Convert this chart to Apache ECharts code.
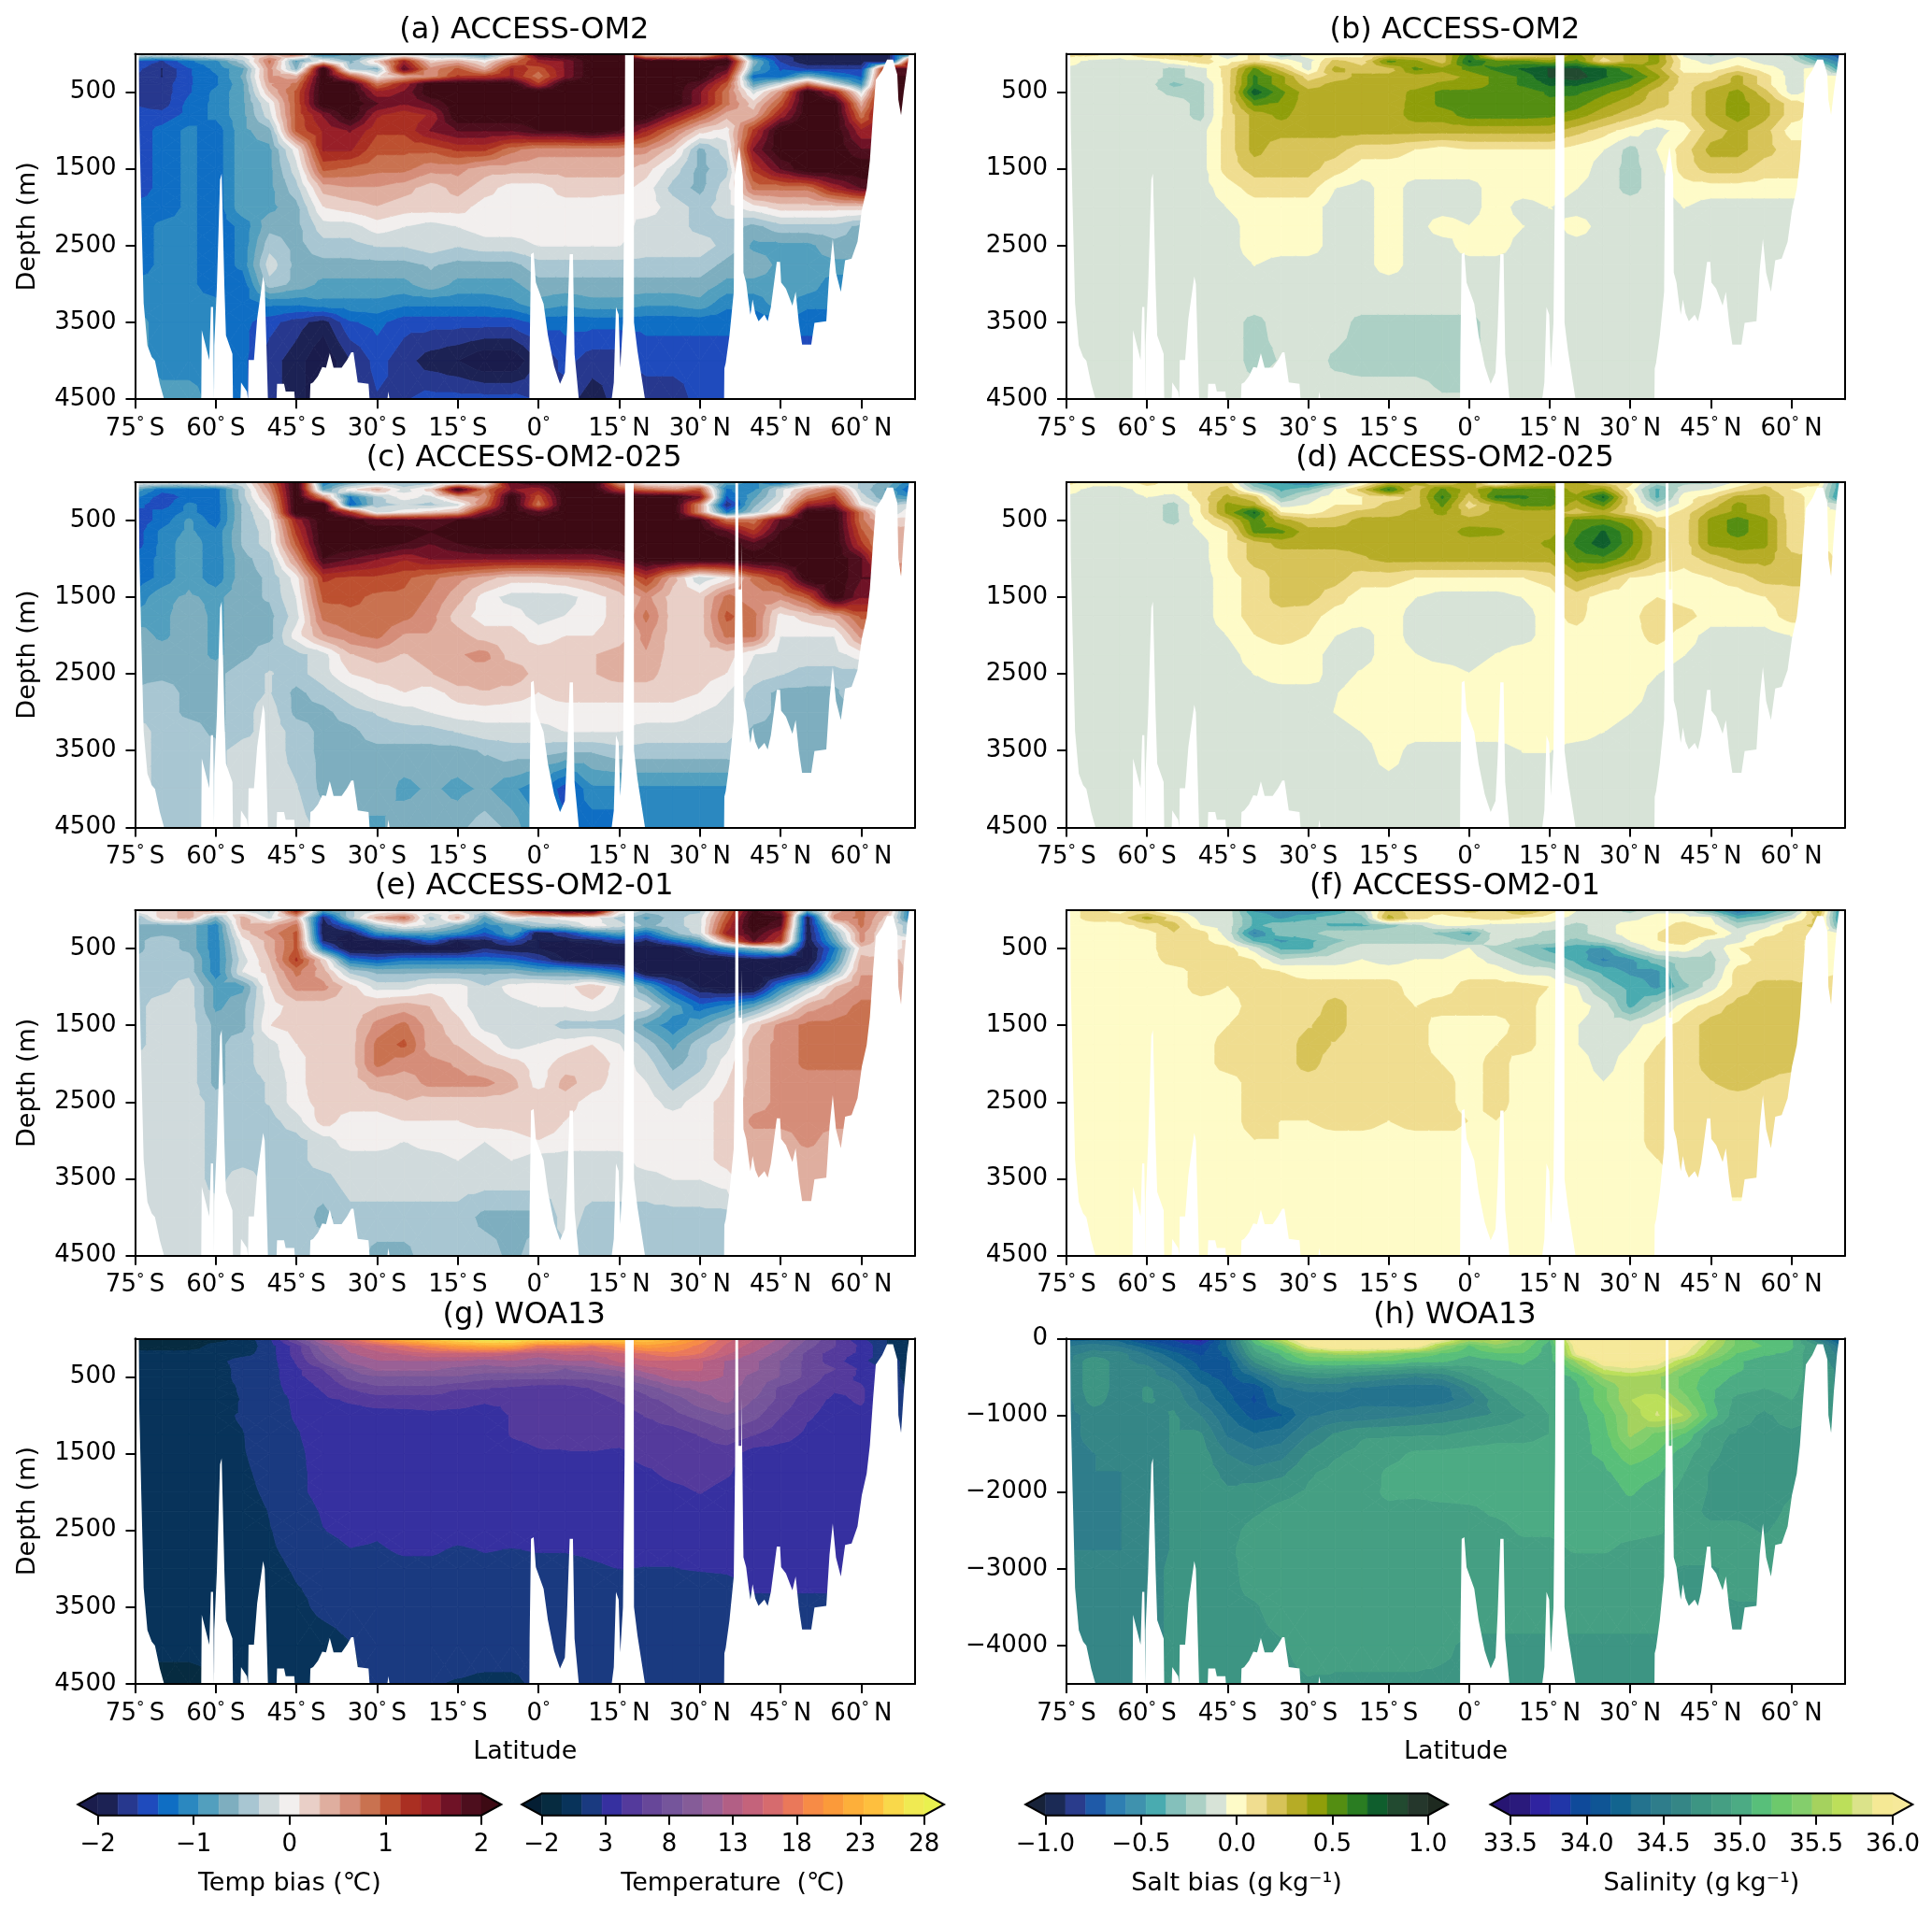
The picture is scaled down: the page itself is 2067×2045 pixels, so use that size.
<!DOCTYPE html>
<html><head><meta charset="utf-8"><style>html,body{margin:0;background:#fff}#c{width:2067px;height:2045px}</style>
<script src="https://cdn.jsdelivr.net/npm/echarts@6/dist/echarts.min.js"></script></head><body><div id="c"></div>
<script>
const latitudes=[-75,-70,-65,-60,-55,-50,-45,-40,-35,-30,-25,-20,-15,-10,-5,0,5,10,15,20,25,30,35,40,45,50,55,60,65,70];
const depths=[0,100,200,300,400,500,650,800,1000,1250,1500,1750,2000,2250,2500,2750,3000,3250,3500,4000,4500];
const latTicks=[-75,-60,-45,-30,-15,0,15,30,45,60];
const depthTicks=[500,1500,2500,3500,4500];
const depthTicksNeg=[0,1000,2000,3000,4000];
// temperature bias, 0.1 degC
const panelA=[
[0,0,0,2,0,2,8,-12,-8,-8,-6,-6,-8,-10,-4,20,22,22,22,-4,-6,-4,10,-16,-18,-18,-18,-18,-20,-10],
[-14,-16,-12,-10,-4,8,-8,0,-6,2,14,2,4,0,8,14,16,22,22,22,22,20,22,-6,-16,-20,-20,-20,-20,20],
[-15,-18,-14,-11,-8,6,-6,22,-4,-6,18,6,10,4,14,10,16,22,22,22,22,22,18,-8,-14,-16,-16,-16,18,18],
[-16,-18,-14,-12,-7,6,4,22,10,0,4,6,12,12,14,8,16,22,22,22,22,22,14,-13,-13,-6,-11,-14,20,20],
[-16,-17,-14,-12,-8,5,8,22,22,8,14,22,22,22,22,12,22,22,22,22,22,18,10,-8,-2,8,-2,-10,20,20],
[-16,-17,-14,-11,-8,3,10,22,22,14,16,22,22,22,22,22,22,22,22,22,22,16,8,-2,6,22,14,-2,20,20],
[-16,-17,-13,-11,-8,-1,10,22,22,18,16,18,22,22,22,22,22,22,22,22,22,16,8,2,10,22,22,4,20,20],
[-15,-15,-13,-11,-8,-2,10,16,22,14,12,14,22,22,22,22,22,22,22,22,16,10,4,4,14,22,22,8,20,20],
[-15,-13,-11,-13,-8,-6,10,14,16,12,12,16,18,18,18,20,20,22,20,14,8,2,0,12,22,22,22,14,14,14],
[-15,-13,-11,-13,-8,-8,0,14,14,10,10,10,12,12,8,6,6,6,6,6,2,-6,-2,16,22,22,22,18,18,18],
[-15,-13,-11,-13,-8,-8,-2,10,9,8,8,6,6,4,4,4,4,4,4,2,-2,-6,-4,12,18,22,22,22,22,22],
[-15,-13,-11,-13,-8,-8,-4,4,5,5,4,2,4,2,0,0,2,2,2,0,-4,-6,-2,8,8,8,14,18,18,18],
[-13,-13,-11,-13,-8,-8,-6,1,2,3,2,2,2,0,0,0,0,0,-1,0,-2,-4,-2,0,2,2,2,2,2,2],
[-13,-11,-11,-13,-11,-6,-6,-2,-2,0,-1,-2,-1,0,0,0,0,0,0,-2,-2,-4,-4,-6,-4,-4,-4,-6,-6,-6],
[-13,-11,-11,-13,-11,-4,-6,-4,-4,-3,-3,-2,-3,-2,-2,-1,-1,-1,-1,-2,-2,-2,-4,-8,-8,-8,-6,-6,-6,-6],
[-13,-11,-11,-13,-11,-2,-6,-6,-6,-6,-6,-5,-6,-6,-6,-4,-4,-4,-4,-4,-4,-4,-6,-6,-8,-8,-8,-8,-8,-8],
[-11,-11,-11,-13,-13,-4,-6,-8,-8,-8,-8,-6,-8,-8,-8,-6,-6,-6,-6,-6,-6,-6,-8,-8,-8,-8,-11,-11,-11,-11],
[-11,-11,-11,-11,-13,-11,-11,-10,-10,-10,-11,-11,-11,-11,-10,-8,-9,-8,-8,-9,-9,-8,-11,-11,-8,-11,-11,-11,-11,-11],
[-8,-11,-11,-11,-13,-15,-17,-19,-14,-13,-15,-15,-15,-15,-15,-13,-13,-13,-13,-13,-13,-13,-13,-13,-13,-13,-13,-13,-13,-13],
[-8,-11,-11,-11,-13,-17,-19,-22,-18,-15,-17,-19,-20,-22,-22,-18,-15,-17,-17,-15,-15,-15,-15,-15,-15,-15,-15,-15,-15,-15],
[-8,-8,-8,-11,-13,-17,-19,-22,-18,-16,-16,-15,-15,-15,-15,-16,-17,-19,-17,-17,-17,-15,-15,-15,-15,-15,-15,-15,-15,-15]];
const panelC=[
[0,0,0,2,-2,8,22,-12,-8,-6,-6,-6,-6,-4,18,20,22,22,4,-2,-2,-4,-8,-10,-13,-6,-4,-4,-6,-12],
[-8,-13,-13,-13,-4,6,22,-8,0,4,-2,2,20,8,16,14,22,22,12,8,6,10,-12,-10,-2,4,8,-4,-8,-15],
[-11,-15,-13,-13,-4,4,22,6,-12,-4,0,-2,4,6,22,10,22,22,22,22,22,16,-14,-8,-2,8,12,-2,-8,-10],
[-13,-15,-11,-13,-5,2,22,22,-14,-4,-3,-4,-2,8,22,8,22,22,22,22,22,6,-18,-6,0,14,16,0,-4,-2],
[-15,-13,-11,-13,-5,0,22,22,12,-2,0,2,4,16,22,18,22,22,22,22,22,6,-12,-4,2,22,22,8,-4,2],
[-15,-13,-9,-13,-5,-1,14,22,22,18,18,18,20,22,22,22,22,22,22,22,22,20,8,8,18,22,22,8,2,2],
[-15,-11,-9,-11,-5,-2,12,22,22,22,22,20,22,22,22,22,22,22,22,22,22,22,18,12,20,22,22,10,4,4],
[-15,-11,-8,-11,-5,-2,10,22,22,22,20,18,20,22,22,22,22,22,22,22,22,22,22,18,22,22,22,12,4,4],
[-13,-11,-8,-11,-6,-4,6,20,18,16,14,16,16,16,16,16,16,16,18,22,22,22,22,22,22,22,22,18,4,4],
[-13,-11,-8,-11,-6,-5,0,12,11,11,10,8,6,4,2,2,3,4,6,12,4,-3,0,8,12,22,22,18,18,0],
[-11,-8,-7,-8,-6,-5,-1,10,10,9,9,7,4,0,-2,-2,-2,0,2,6,2,2,8,6,6,10,22,16,16,0],
[-9,-8,-6,-8,-6,-6,-2,8,9,9,8,6,2,0,0,-2,-1,0,2,8,2,2,10,8,0,2,4,10,10,0],
[-6,-8,-6,-8,-6,-6,0,5,7,8,5,5,4,2,2,0,1,1,2,6,2,2,8,8,-1,-1,-1,6,6,0],
[-6,-6,-6,-8,-6,-4,-4,-2,3,4,3,4,5,6,2,2,2,3,4,5,2,2,2,-1,-2,-2,-2,0,0,0],
[-6,-6,-6,-6,-4,-3,-4,-2,1,2,2,3,5,4,5,2,3,3,4,4,2,2,1,-2,-3,-4,-4,-4,0,0],
[-5,-4,-6,-6,-4,-3,-6,-4,-2,0,1,0,2,3,2,1,2,2,2,2,2,1,-1,-4,-6,-6,-6,-2,0,0],
[-4,-4,-6,-6,-4,-2,-6,-6,-4,-3,-2,-1,0,0,0,0,0,0,0,0,0,-1,-2,-4,-6,-6,-6,-6,0,0],
[-2,-4,-4,-6,-4,-2,-4,-6,-6,-4,-4,-4,-3,-2,-2,-2,-1,-1,-1,-2,-2,-2,-2,-6,-6,-6,-6,-6,0,0],
[-2,-4,-4,-4,-2,-2,-4,-6,-6,-6,-6,-6,-6,-5,-4,-4,-5,-5,-4,-4,-4,-4,-4,-6,-6,-6,-6,-6,0,0],
[-2,-4,-4,-4,-2,-2,-3,-6,-6,-6,-8,-7,-8,-7,-9,-11,-15,-10,-10,-10,-10,-10,-10,-6,-6,-6,-6,-6,0,0],
[-2,-4,-4,-4,-2,-2,-2,-4,-8,-8,-6,-6,-6,-4,-6,-10,-13,-13,-13,-11,-11,-11,-11,-6,-6,-6,-6,-6,0,0]];
const panelE=[
[0,2,4,4,-2,-4,14,-8,-4,-2,-2,0,-2,-2,10,18,22,22,2,-4,-4,-4,8,20,16,-6,4,8,4,-15],
[-6,2,4,-6,4,-2,4,-18,-4,4,8,-4,4,-8,0,-2,0,0,-4,-8,-4,-2,10,22,20,-20,6,8,2,-15],
[-6,-6,-6,-11,4,4,8,-20,-13,-4,0,-2,-6,-11,-8,-4,-4,0,-2,-6,-4,-2,12,22,18,-20,-2,8,0,-6],
[-6,-6,-6,-11,2,6,10,-20,-20,-10,-8,-8,-10,-14,-8,-20,-16,-11,-8,-13,-6,-2,14,20,14,-20,-6,6,0,-6],
[-6,-4,-6,-11,0,4,10,-18,-22,-20,-19,-14,-20,-19,-15,-20,-20,-19,-16,-18,-13,-8,6,18,12,-20,-8,6,0,2],
[-6,-4,-6,-11,-1,4,10,-12,-22,-22,-22,-22,-22,-18,-20,-20,-22,-22,-22,-22,-22,-16,-10,-6,-2,-22,-12,2,0,2],
[-5,-4,-4,-11,-2,3,12,2,-12,-14,-12,-12,-12,-12,-13,-16,-20,-22,-22,-22,-22,-22,-22,-20,-22,-22,-10,4,4,2],
[-4,-4,-4,-11,-1,2,8,4,-4,-6,-6,-6,-6,-6,-6,-8,-8,-10,-13,-22,-22,-22,-22,-22,-22,-18,-6,5,5,2],
[-4,-4,-2,-8,-8,1,6,6,2,-2,-2,0,0,-3,0,1,0,3,-1,-8,-15,-20,-22,-22,-11,-4,3,6,6,2],
[-4,-2,-2,-8,-6,0,2,2,2,3,4,3,0,-3,-2,-1,-1,0,-2,-2,-8,-13,-11,-8,-2,4,6,8,8,2],
[-4,-2,-2,-6,-6,1,2,2,2,6,8,4,2,-2,-2,-2,-4,-4,-4,-8,-11,-8,-4,2,6,8,8,8,8,2],
[-4,-2,-2,-6,-4,-2,1,2,2,8,10,4,3,1,-2,-1,0,1,-1,-4,-8,-4,-2,4,6,8,8,8,8,2],
[-2,-2,-2,-6,-4,-2,0,3,2,8,6,6,5,3,2,0,2,3,0,-2,-6,-4,0,4,6,8,8,8,8,0],
[-2,-2,-2,-6,-4,-3,0,3,2,4,4,6,6,6,4,0,4,2,0,-1,-4,-2,1,4,6,6,6,6,6,0],
[-2,-2,-2,-4,-4,-3,0,2,2,2,3,2,2,2,2,3,2,0,0,0,-2,0,2,4,6,6,6,6,6,0],
[-2,-2,-2,-4,-4,-4,-2,2,0,0,1,1,1,2,2,3,1,0,0,0,0,0,2,6,6,6,6,6,6,0],
[-2,-2,-2,-4,-4,-4,-4,-2,0,0,-1,0,0,-1,0,1,0,0,0,0,0,0,2,4,4,6,4,4,4,0],
[-2,-2,-2,-4,-4,-4,-4,-2,-2,-2,-2,-2,-1,-2,-1,-2,-2,-2,-2,0,0,0,2,4,4,4,4,4,4,0],
[-2,-2,-2,-4,-2,-4,-4,-4,-2,-2,-2,-2,-2,-2,-2,-2,-2,-2,-2,-2,-1,-1,0,4,4,4,4,4,4,0],
[-2,-2,-2,-2,-2,-4,-4,-6,-4,-4,-4,-4,-4,-6,-6,-6,-2,-4,-4,-4,-4,-4,-4,4,4,4,4,4,4,0],
[-2,-2,-2,-2,-2,-4,-4,-4,-4,-6,-6,-4,-4,-4,-6,-4,-4,-4,-4,-4,-4,-4,-4,4,4,4,4,4,4,0]];
// salinity bias, 0.01 g/kg
const panelB=[
[10,10,0,20,20,20,-20,10,-30,0,-10,0,10,10,20,60,-10,0,10,40,20,30,40,-10,-20,-10,-10,-20,-70,-80],
[0,-10,-10,-10,0,10,0,10,0,-10,20,10,50,40,20,70,50,50,40,50,10,30,40,0,-10,0,-10,-10,-40,-70],
[-8,-10,-10,-10,-20,-10,10,50,20,-10,30,20,20,50,40,50,60,70,80,80,70,50,30,0,0,10,0,-10,0,-60],
[-10,-10,-10,-10,-20,-10,10,60,40,10,20,30,30,30,30,40,50,60,80,85,70,60,40,10,10,30,10,-10,0,-5],
[-10,-10,-10,-10,-30,-20,10,60,40,20,30,30,30,30,40,40,50,60,70,70,60,50,30,10,20,30,10,-10,0,0],
[-10,-10,-10,-10,-20,-20,10,75,50,30,30,30,30,40,50,50,50,50,60,60,50,40,20,10,30,40,20,-10,0,0],
[-10,-10,-10,-10,-10,-20,10,50,45,30,35,30,32,40,50,52,50,52,55,52,40,30,20,10,30,42,30,10,0,0],
[-10,-10,-10,-10,-10,-20,10,30,40,30,30,30,30,42,42,52,52,52,50,42,30,20,10,10,30,42,30,10,0,0],
[-10,-10,-10,-10,-10,-10,10,30,30,30,30,30,30,30,30,30,30,30,30,20,10,0,-10,0,20,30,20,0,0,0],
[-10,-10,-10,-10,-10,-10,10,30,20,20,20,10,10,5,0,5,5,5,5,0,-5,-20,-5,10,30,30,20,10,10,0],
[-10,-10,-10,-10,-10,-10,10,20,20,20,10,0,0,0,0,0,0,0,0,0,-10,-20,-10,10,20,20,10,10,10,0],
[-10,-10,-10,-10,-10,-10,0,10,10,10,-5,-10,0,-10,-10,-10,0,0,0,-5,-10,-20,-10,0,0,0,0,0,0,0],
[-10,-10,-10,-10,-10,-10,-5,0,0,0,-10,-10,0,-10,-10,-10,0,-10,-5,-10,-10,-10,-10,-5,-10,-10,-10,-10,-10,0],
[-10,-10,-10,-10,-10,-10,-10,0,0,0,-10,-10,0,-10,0,-5,0,-5,-10,0,-10,-10,-10,-10,-10,-10,-10,-10,-10,0],
[-10,-10,-10,-10,-10,-10,-10,0,0,0,-10,-10,0,-10,-10,0,0,-10,-10,-10,-10,-10,-10,-10,-10,-10,-10,-10,-10,0],
[-10,-10,-10,-10,-10,-10,-10,-5,-10,-10,-10,-10,0,-10,-10,-10,-10,-10,-10,-10,-10,-10,-10,-10,-10,-10,-10,-10,-10,0],
[-10,-10,-10,-10,-10,-10,-10,-10,-10,-10,-10,-10,-10,-10,-10,-10,-10,-10,-10,-10,-10,-10,-10,-10,-10,-10,-10,-10,-10,0],
[-10,-10,-10,-10,-10,-10,-10,-10,-10,-10,-10,-10,-10,-10,-10,-10,-10,-10,-10,-10,-10,-10,-10,-10,-10,-10,-10,-10,-10,0],
[-10,-10,-10,-10,-10,-10,-10,-20,-10,-10,-10,-20,-20,-20,-20,-20,-10,-10,-10,-10,-10,-10,-10,-10,-10,-10,-10,-10,-10,0],
[-10,-10,-10,-10,-10,-10,-10,-20,-15,-10,-18,-20,-20,-20,-20,-20,-10,-10,-10,-10,-10,-10,-10,-10,-10,-10,-10,-10,-10,0],
[-10,-10,-10,-10,-10,-10,-10,-10,-10,-10,-10,-10,-10,-10,-15,-15,-10,-10,-10,-10,-10,-10,-10,-10,-10,-10,-10,-10,-10,0]];
const panelD=[
[10,0,0,10,0,10,10,-40,-50,-65,-40,-10,20,30,10,30,-20,10,20,30,10,10,-20,-20,-20,-5,10,10,10,-60],
[0,-10,-10,0,0,10,20,-20,-40,-30,-5,20,60,20,50,30,50,50,50,30,40,0,-40,-10,-5,10,20,5,0,-60],
[-8,-10,-10,-5,-10,10,30,20,-30,-10,0,5,10,20,60,20,60,60,50,40,70,10,-40,0,10,30,30,10,0,-70],
[-10,-10,-10,-10,-20,5,40,30,-10,-5,5,5,20,20,50,10,30,50,50,30,50,10,-20,0,20,40,30,10,0,-20],
[-10,-10,-10,-10,-20,5,40,70,5,0,10,20,20,30,40,20,30,30,30,20,30,10,-5,10,30,40,30,10,0,-5],
[-10,-10,-10,-10,-20,0,20,55,30,20,20,30,30,30,30,30,30,30,30,50,50,40,10,10,40,52,40,10,0,-5],
[-10,-10,-10,-10,-10,-5,5,50,50,30,30,30,30,30,30,42,40,30,30,55,70,50,20,10,40,52,40,10,0,-5],
[-10,-10,-10,-10,-10,-10,5,20,30,30,30,30,30,30,30,30,30,30,40,60,75,50,20,10,40,42,40,10,0,-5],
[-10,-10,-10,-10,-10,-10,5,20,20,20,20,25,30,30,30,30,30,30,30,52,55,40,20,10,20,30,30,20,20,-5],
[-10,-10,-10,-10,-10,-10,0,10,20,20,20,10,10,5,5,5,5,5,10,30,20,5,0,0,5,10,20,20,20,0],
[-10,-10,-10,-10,-10,-10,0,10,20,20,10,0,0,-5,-10,-10,-10,-5,0,10,0,0,5,0,0,0,5,10,10,0],
[-10,-10,-10,-10,-10,-10,0,10,12,10,0,0,0,-10,-10,-10,-10,-10,0,10,-5,0,15,10,0,0,0,10,10,0],
[-10,-10,-10,-10,-10,-10,-5,5,10,5,-5,-10,0,-10,-10,-10,-10,-10,0,0,-5,0,10,0,-10,-10,-10,-5,-5,0],
[-10,-10,-10,-10,-10,-10,-10,0,0,0,-10,-10,0,-5,-10,-10,-5,0,0,0,0,0,0,-5,-10,-10,-10,-10,-10,0],
[-10,-10,-10,-10,-10,-10,-10,-5,0,0,-10,-4,0,0,0,-5,0,0,0,0,0,0,-5,-10,-10,-10,-10,-10,-10,0],
[-10,-10,-10,-10,-10,-10,-10,-10,-10,-10,-6,0,0,0,0,0,0,0,0,0,0,0,-10,-10,-10,-10,-10,-10,-10,0],
[-10,-10,-10,-10,-10,-10,-10,-10,-10,-10,-5,0,0,0,0,0,0,0,0,0,0,-5,-10,-10,-10,-10,-10,-10,-10,0],
[-10,-10,-10,-10,-10,-10,-10,-10,-10,-10,-10,-5,0,0,0,0,0,0,0,0,-5,-10,-10,-10,-10,-10,-10,-10,-10,0],
[-10,-10,-10,-10,-10,-10,-10,-10,-10,-10,-10,-10,0,-10,-10,-10,-10,-5,-5,-10,-10,-10,-10,-10,-10,-10,-10,-10,-10,0],
[-10,-10,-10,-10,-10,-10,-10,-10,-10,-10,-10,-10,-10,-10,-10,-10,-10,-10,-10,-10,-10,-10,-10,-10,-10,-10,-10,-10,-10,0],
[-10,-10,-10,-10,-10,-10,-10,-10,-10,-10,-10,-10,-10,-10,-10,-10,-10,-10,-10,-10,-10,-10,-10,-10,-10,-10,-10,-10,-10,0]];
const panelF=[
[0,10,0,5,-10,-10,-10,-50,-50,-60,-50,-20,20,10,10,20,10,30,10,-5,-10,-20,-10,-10,-40,-70,-50,-30,30,-70],
[0,10,10,30,10,-10,-10,-40,-50,-40,-30,-30,30,10,0,5,10,5,0,-10,-10,-10,0,0,-5,-40,-30,-10,20,-70],
[0,0,0,10,20,-5,-10,-40,-30,-30,-40,-40,-30,-20,-5,-5,-10,-10,-10,-20,-10,0,0,10,0,-20,-10,10,20,-60],
[0,0,0,0,15,10,-10,-60,-30,-30,-20,-20,-20,-20,-30,-40,-10,-10,-20,-20,-10,0,5,15,10,-10,0,10,5,-10],
[0,0,0,0,15,10,-5,-40,-50,-40,-30,-20,-20,-20,-20,-30,-10,-20,-20,-30,-20,-5,5,10,-10,-10,10,10,0,0],
[0,0,0,0,15,10,10,-10,-40,-40,-20,-10,-10,-10,-10,-5,-20,-30,-40,-45,-50,-20,0,0,-15,5,10,10,0,5],
[0,0,0,0,10,10,10,5,-15,-10,-10,-5,-10,-5,-5,0,-10,-20,-30,-40,-60,-50,-30,-20,-20,0,10,10,0,5],
[0,0,0,0,0,10,10,10,5,0,0,0,0,0,0,0,0,-10,-10,-30,-40,-50,-50,-20,-20,10,10,10,0,5],
[0,0,0,0,0,10,5,10,10,10,10,10,10,0,0,10,10,10,5,-5,-30,-40,-50,-30,-10,10,20,20,20,5],
[0,0,0,0,0,0,0,10,10,10,20,10,10,5,10,10,10,10,0,0,-10,-40,-20,0,10,20,20,20,20,0],
[0,0,0,0,0,0,5,10,10,15,20,10,10,10,0,0,0,10,0,-5,-10,-10,0,10,20,20,20,20,20,0],
[0,0,0,0,0,0,10,10,10,20,15,10,10,10,0,0,5,10,0,-5,-10,-5,5,10,20,20,20,20,20,0],
[0,0,0,0,0,0,10,10,10,20,10,10,10,10,5,0,10,0,0,0,-10,0,10,10,20,20,20,20,20,0],
[0,0,0,0,0,0,0,10,10,10,10,10,10,10,10,0,10,0,0,0,-5,0,10,10,15,20,15,10,10,0],
[0,0,0,0,0,0,0,10,10,10,10,10,10,10,10,0,10,0,0,0,0,0,10,10,10,10,10,10,10,0],
[0,0,0,0,0,0,0,10,5,5,10,10,5,10,10,5,5,0,0,0,0,0,10,10,10,10,10,10,10,0],
[0,0,0,0,0,0,0,5,5,0,0,0,0,0,0,5,0,0,0,0,0,0,10,10,10,10,10,10,10,0],
[0,0,0,0,0,0,0,0,5,0,0,0,0,0,0,0,0,0,0,0,0,0,5,10,10,10,10,10,10,0],
[0,0,0,0,0,0,0,0,0,0,0,0,0,0,0,0,0,0,0,0,0,0,0,10,10,10,10,0,0,0],
[0,0,0,0,0,0,0,0,0,0,0,0,0,0,0,0,0,0,0,0,0,0,0,0,0,0,0,0,0,0],
[0,0,0,0,0,0,0,0,0,0,0,0,0,0,0,0,0,0,0,0,0,0,0,0,0,0,0,0,0,0]];
// WOA13 temperature, degC
const panelG=[
[-1,-1,-1,-1,0,2.5,8,13,17,21,24,26,27,28,28,27,27,26,26,25,23,20,16,14,12,9,6,3,1,-1],
[-1,-1,-1,0,0,2,5,10,13,15,17,19,21,22,22,18,18,17,19,21,20,18,15,13,11,8,6,4,1,-1],
[0,0,0,0,0.5,2,5,9,12,13,14,15,15,15,14,13,14,14,15,17,18,17,14,12,10,7,5,4,1,0],
[0,0,0,0.5,2,2,4.5,8,11,12,12,12,12,11,12,11,12,12,14,15,15,14,12,11,9,7,5,3,2,0],
[0,0,0,0,2,2,4,6,9,11,11,11,10,10,10,10,9,10,11,13,14,14,12,11,9,7,6,4,2,0],
[0,0,0,0,2,2,4,5,8,9,9,9,9,8,8,8,8,8,9,11,13,13,12,10,9,7,5,4,2,0],
[0,0,0,0,1.5,2,3.5,4.5,6,7,7,7,6,6,5.5,5,5,6,7,8,10,11,11,10,7,6,4.5,4.5,3,0],
[0,0,0,0,1.3,2,3,4,4.5,5,5,5,5,4.5,4.5,4.5,5,5,6,7,8,10,11,9,7,5,4,4.5,3,0],
[0,0,0,0.8,1.3,2,2.9,3.5,3.7,3.7,3.8,4,3.8,3.7,4.4,4.6,5,5,5,6,7,8,9,8,6,4.5,3.8,4,3,0],
[0,0,0,0.8,1.1,2,2.6,3.5,3.5,3.5,3.5,3.5,3.5,3.5,4.4,4.6,4.8,5,5,5,5,6,7,6,5,4,3.5,3.5,3,0],
[0,0,0,0,1.05,1.8,2.4,3.4,3.5,3.5,3.5,3.5,3.5,3.5,3.9,4.2,4.2,4.2,4,5,5,5,5,3.5,3.5,3.5,3.5,3.5,3,0],
[0,0,0,0,0.9,1.6,2.4,3.2,3.5,3.5,3.5,3.5,3.5,3.5,3.5,3.5,3.5,3.5,3.6,4,4.8,5,4.5,3.5,3.5,3.5,3.5,3.5,3,0],
[0,0,0,0,0.8,1.4,2.4,3.2,3.3,3,3.4,3.4,3.4,3.4,3.4,3.4,3.4,3.4,3.4,3.4,3.8,4.4,3.8,3.4,3.4,3.4,3.4,3.4,3,0],
[0,0,0,0,0.6,1.2,2,2.9,3.1,3,3.3,3.3,3.3,3.3,3.3,3.3,3.3,3.3,3.3,3.3,3.3,3.4,3.3,3.3,3.3,3.3,3.3,3.3,3,0],
[0,0,0,0,0.5,1.1,1.7,2.7,3.1,2.9,3.2,3.2,3.2,3.2,3.2,3.2,3.2,3.2,3.2,3.2,3.2,3.2,3.2,3.2,3.2,3.2,3.2,3.2,3,0],
[0,0,0,0,0.4,1,1.5,2.2,2.7,2.6,2.9,2.9,2.6,2.8,2.7,2.8,2.8,2.9,3,3,3,3.1,3.2,3.1,3.1,3.1,3.1,3.1,3,0],
[0,0,0,0,0.3,0.8,1.3,1.7,2.2,2.3,2.4,2.4,2.3,2.4,2.4,2.4,2.4,2.6,2.75,2.7,2.7,2.85,2.95,3.1,3.1,3.1,3.1,3.1,3,0],
[0,0,0,0,0,0.5,1.1,1.4,1.8,2,2,2,2,2,2,2,2,2,2,2,2,2,2.2,3,3,3,3,3,3,0],
[0,0,0,0,0,0.3,0.9,1.4,1.6,1.8,1.8,1.8,1.8,1.8,1.8,1.8,1.8,1.8,1.8,1.8,1.8,1.8,1.9,2,2,2,2,2,2,0],
[0,0,0,0,0,0,0.5,0.7,1.1,1.5,1.5,1.5,1.5,1.5,1.5,1.5,1.5,1.5,1.5,1.5,1.5,1.5,1.5,2,2,2,2,2,2,0],
[-1,-1,-1,-0.5,0,0,0.3,0.6,1,1.3,1.3,1.2,1.1,1,1,1.3,1.3,1.3,1.3,1.3,1.3,1.3,1.3,2,2,2,2,2,2,0]];
// WOA13 salinity, g/kg
const panelH=[
[34.2,34.2,34.2,33.9,33.85,33.65,34.3,35.2,35.7,36.2,36.2,36.2,36.2,36.2,36,35.6,35.7,35.4,35.1,36.2,36.2,36.2,36.2,36.2,35.7,35.3,35.1,35.1,34.5,33.9],
[34.4,34.5,34.4,34.2,34,33.9,34.3,35,35.3,35.9,36.1,36.1,36.1,36,35.5,35.2,35.4,35.3,35,36,36.2,36.2,36.2,36,35.6,35.3,35.2,35.1,34.8,34.2],
[34.5,34.6,34.6,34.4,34.2,34,34.2,34.9,35.1,35.4,35.5,35.5,35.4,35.3,35.2,35.1,35.2,35.2,35,35.9,36.2,36.2,36.1,35.9,35.5,35.2,35.1,35.05,34.8,34.4],
[34.5,34.8,34.6,34.5,34.3,34.1,34.1,34.7,35,35.2,35.2,35.2,35.2,35.1,35.1,35,35.05,35.1,35,35.5,36,36,35.95,35.6,35.3,35.1,35,35.05,34.8,34.5],
[34.5,34.8,34.6,34.6,34.4,34.15,34.1,34.5,34.8,34.9,34.95,34.9,34.85,34.8,34.8,34.9,35,35.05,34.95,35.3,35.75,35.85,35.75,35.4,35.2,35.1,35,35.05,34.8,34.6],
[34.5,34.8,34.6,34.6,34.5,34.2,34.1,34.3,34.6,34.7,34.7,34.65,34.6,34.55,34.6,34.8,34.95,35,35,35.1,35.5,35.6,35.5,35.3,35.15,35.05,35,35.05,34.8,34.6],
[34.5,34.8,34.6,34.7,34.6,34.35,34.15,34.05,34.4,34.45,34.45,34.4,34.35,34.35,34.35,34.6,34.85,34.95,35,35.05,35.3,35.6,35.5,35.3,35.1,35,34.95,35,34.8,34.6],
[34.5,34.75,34.6,34.7,34.65,34.4,34.2,34,34.35,34.35,34.35,34.4,34.35,34.3,34.35,34.5,34.75,34.9,35,35.05,35.3,35.6,35.7,35.4,35.1,34.9,34.85,34.95,34.8,34.6],
[34.5,34.6,34.6,34.6,34.7,34.55,34.3,34.1,34.15,34.4,34.45,34.45,34.5,34.55,34.6,34.65,34.7,34.8,34.95,35,35.2,35.5,35.75,35.6,35.15,34.85,34.8,34.85,34.8,34.6],
[34.5,34.6,34.6,34.6,34.7,34.7,34.4,34.3,34.35,34.55,34.7,34.8,34.8,34.8,34.8,34.85,34.9,34.9,34.95,35,35.15,35.5,35.3,35.2,34.85,34.8,34.8,34.8,34.8,34.6],
[34.5,34.55,34.6,34.6,34.7,34.75,34.55,34.45,34.5,34.7,34.8,34.85,34.9,34.97,34.98,35,35,35,35,35.05,35.1,35.3,35.2,35,34.85,34.75,34.75,34.75,34.7,34.6],
[34.5,34.55,34.55,34.6,34.7,34.75,34.65,34.6,34.65,34.8,34.85,34.87,34.97,35,35,35,35,35,35,35,35.05,35.15,35.1,34.95,34.8,34.72,34.72,34.75,34.7,34.6],
[34.5,34.5,34.55,34.6,34.7,34.75,34.7,34.75,34.78,34.83,34.87,34.9,34.97,34.97,35,35,35,35,35,35,35,35.1,35,34.9,34.8,34.75,34.75,34.8,34.7,34.6],
[34.5,34.5,34.55,34.6,34.7,34.75,34.75,34.8,34.85,34.87,34.9,34.9,34.92,34.9,34.9,34.92,34.97,35,35,35,35,35,34.97,34.88,34.78,34.78,34.75,34.85,34.8,34.6],
[34.5,34.5,34.55,34.6,34.7,34.75,34.78,34.85,34.88,34.9,34.9,34.9,34.9,34.9,34.9,34.9,34.9,34.97,34.97,35,35,35,34.97,34.88,34.85,34.85,34.8,34.88,34.8,34.6],
[34.55,34.55,34.55,34.6,34.7,34.75,34.8,34.85,34.88,34.88,34.88,34.88,34.88,34.88,34.88,34.88,34.88,34.9,34.9,34.97,34.97,34.9,34.88,34.88,34.88,34.88,34.88,34.88,34.8,34.6],
[34.6,34.6,34.6,34.62,34.72,34.75,34.78,34.87,34.88,34.88,34.88,34.88,34.88,34.88,34.88,34.85,34.85,34.85,34.85,34.85,34.85,34.85,34.85,34.8,34.8,34.85,34.85,34.85,34.8,34.6],
[34.6,34.6,34.6,34.62,34.72,34.75,34.78,34.85,34.88,34.88,34.88,34.88,34.88,34.88,34.88,34.85,34.85,34.85,34.85,34.85,34.85,34.85,34.85,34.8,34.8,34.85,34.85,34.85,34.8,34.6],
[34.6,34.6,34.6,34.62,34.72,34.75,34.78,34.8,34.88,34.88,34.88,34.88,34.88,34.88,34.88,34.85,34.85,34.85,34.85,34.85,34.85,34.85,34.85,34.8,34.8,34.8,34.8,34.8,34.8,34.6],
[34.6,34.6,34.6,34.62,34.72,34.75,34.75,34.78,34.8,34.88,34.85,34.85,34.85,34.85,34.83,34.8,34.8,34.8,34.8,34.8,34.8,34.8,34.8,34.8,34.8,34.8,34.8,34.8,34.8,34.6],
[34.6,34.6,34.6,34.62,34.72,34.75,34.75,34.78,34.78,34.8,34.8,34.8,34.8,34.8,34.8,34.8,34.8,34.8,34.8,34.8,34.8,34.8,34.8,34.8,34.8,34.8,34.8,34.8,34.8,34.6]];
// sea floor profile [latitude, depth m]; below it the section is blank
const seafloorFine=[[-75,0],[-74.3,0],[-74.2,950],[-73.85,2000],[-73.4,3250],[-72.7,3800],[-71.9,3950],[-71.3,4000],[-70.4,4300],[-69.6,4500],[-62.7,4500],[-62.6,3600],[-61.2,3990],[-60.9,3300],[-60.5,3300],[-60.4,3800],[-60.32,4500],[-60.28,3800],[-59.8,3050],[-59.2,1640],[-58.9,1560],[-58.4,3020],[-58.1,3670],[-56.9,3910],[-56.8,4500],[-55.4,4500],[-55.3,4280],[-54.2,4400],[-54,4500],[-53.9,3990],[-52.9,3990],[-52.3,3450],[-51.6,3100],[-51.2,2900],[-50.9,3000],[-50.5,4000],[-50.3,4500],[-48.7,4500],[-48.6,4300],[-47.3,4300],[-47,4400],[-45.4,4400],[-45.3,4500],[-42.5,4500],[-42.4,4300],[-41.9,4280],[-41,4200],[-40.2,4080],[-39.5,4090],[-38.8,3900],[-38.5,3900],[-38.1,4090],[-36.6,4090],[-35.6,3990],[-34.8,3890],[-34.4,3890],[-33.6,4280],[-31.6,4300],[-31.4,4500],[-28.1,4500],[-27.9,4400],[-27.7,4500],[-1.7,4500],[-1.65,3900],[-1.4,2610],[-0.9,2590],[-0.5,2980],[0.95,3260],[1.75,3670],[2.9,4070],[3.5,4200],[4,4300],[4.9,4155],[5.3,3590],[5.8,2610],[6.4,2610],[6.7,3910],[7.5,4500],[13.6,4500],[14,4280],[14.4,3300],[14.9,3400],[15.2,4090],[15.4,4090],[15.7,3500],[16,1600],[16.1,0],[17.7,0],[17.75,3500],[18.4,3870],[19.8,4500],[34.5,4500],[34.55,4100],[34.8,4030],[35.5,3670],[36.3,3100],[36.55,1600],[36.6,0],[37.1,0],[37.2,1400],[37.7,1400],[37.75,760],[38,760],[38.1,2850],[38.6,2980],[39.1,3260],[39.4,3400],[39.8,3200],[40.3,3385],[40.9,3485],[42,3400],[42.6,3485],[43.2,3300],[44.3,2710],[44.9,2710],[45.1,2980],[46,3060],[47.2,3280],[47.8,3100],[48.4,3505],[49,3790],[50.7,3790],[51.3,3505],[53.5,3485],[54.1,2815],[54.7,2410],[55.3,2855],[56.2,3100],[57,2690],[58.2,2670],[59.3,2450],[60.1,2040],[61,1760],[61.6,1390],[62.2,780],[62.7,340],[63.9,215],[64.8,75],[65.9,75],[66.7,275],[66.9,1000],[67.4,1230],[67.9,700],[68.5,200],[68.9,0],[70,0]];
const ridge37Coarse=[[36.45,1600],[37.3,1210],[37.6,1210],[38,1600]];
const arctic67Coarse=[[66.9,600],[67.4,800],[67.9,500]];
const seafloorCoarse=seafloorFine.filter(p=>(p[0]<=36.3||p[0]>=38.1)&&(p[0]<66.8||p[0]>68)).concat(ridge37Coarse,arctic67Coarse).sort((a,b)=>a[0]-b[0]);
const colorsTempBias=['#1a1c4c','#1c2254','#27388e','#1f4bbd','#0f6ec4','#2b88c0','#529fbe','#7eaebf','#a8c6d2','#d0dadc','#f2efee','#e9cfc7','#dfae9f','#d58d79','#c97250','#bd5030','#aa2f22','#981f28','#6f1226','#4d0e1d','#3d0a14'];
const colorsTemp=['#041e33','#062b40','#08335a','#1a3a80','#3630a0','#543a9c','#674799','#75559b','#855c98','#9a6096','#b25f85','#c4637b','#d66b6e','#ea785a','#f78b46','#fb9a3a','#fdaf3a','#febf3e','#f9d84a','#f0ea52','#e9f14f'];
const colorsSaltBias=['#172239','#1b2a55','#2a3c8c','#1f5aa8','#2f7fb2','#3f92ae','#49abb0','#84c0bb','#acd0c5','#d7e3d7','#fefbc8','#f0dd90','#d7c358','#b6ac26','#8f9e0a','#548e12','#2a7d22','#0f5e2d','#224a30','#25372c','#1e2a20'];
const colorsSalinity=['#271572','#2a1a7c','#2f23a0','#2136a8','#0f4a9a','#0f5595','#12648f','#24738e','#2f7d8b','#358686','#3d9583','#459f83','#4cab84','#58bf7a','#6dc96c','#84ce6c','#a5d25e','#bcdf5a','#dbe38a','#f5e995','#f6e99a'];
const FONT='DejaVu Sans',TICK=26,NAME=27,TITLE=32,BLACK='#000';
const scales={
 tb:{lo:-2,hi:2,colors:colorsTempBias,div:10},
 t:{lo:-2,hi:28,colors:colorsTemp,div:1},
 sb:{lo:-1,hi:1,colors:colorsSaltBias,div:100},
 s:{lo:33.5,hi:36,colors:colorsSalinity,div:1}};
for(const k in scales){const s=scales[k];s.th=[];for(let i=0;i<20;i++)s.th.push(s.lo+(s.hi-s.lo)*i/19);}
const leftX=[144.5,1141],W=[834.5,833];
const tops=[57.5,515.7,974,1432.3],H=369.7;
const panels=[
 ['(a) ACCESS-OM2',panelA,'tb',0,0,seafloorCoarse],['(b) ACCESS-OM2',panelB,'sb',1,0,seafloorCoarse],
 ['(c) ACCESS-OM2-025',panelC,'tb',0,1,seafloorFine],['(d) ACCESS-OM2-025',panelD,'sb',1,1,seafloorFine],
 ['(e) ACCESS-OM2-01',panelE,'tb',0,2,seafloorFine],['(f) ACCESS-OM2-01',panelF,'sb',1,2,seafloorFine],
 ['(g) WOA13',panelG,'t',0,3,seafloorFine],['(h) WOA13',panelH,'s',1,3,seafloorFine]];
const minus=s=>String(s).replace('-','\u2212');
const fmtLat=v=>v===0?'{n|0}{d|°}':'{n|'+Math.abs(v)+'}{d|°}{n|\u2009'+(v<0?'S':'N')+'}';
const latRich={n:{fontFamily:FONT,fontSize:TICK,color:BLACK,lineHeight:28},d:{fontFamily:FONT,fontSize:17,color:BLACK,verticalAlign:'top',lineHeight:28}};
function band(s,v){let k=0;while(k<20&&v>=s.th[k])k++;return k;}
function clip(poly,t,above){const out=[];for(let i=0;i<poly.length;i++){const a=poly[i],b=poly[(i+1)%poly.length];
 const ia=above?a[2]>=t:a[2]<t,ib=above?b[2]>=t:b[2]<t;
 if(ia)out.push(a);
 if(ia!==ib){const f=(t-a[2])/(b[2]-a[2]);out.push([a[0]+(b[0]-a[0])*f,a[1]+(b[1]-a[1])*f,t]);}}
 return out;}
function poly(pts,c){return {type:'polygon',shape:{points:pts.map(p=>[p[0],p[1]])},style:{fill:c,stroke:c,lineWidth:0.8},silent:true};}
function tri(s,a,b,c,out){const k0=band(s,Math.min(a[2],b[2],c[2])),k1=band(s,Math.max(a[2],b[2],c[2]));
 if(k0===k1){out.push(poly([a,b,c],s.colors[k0]));return;}
 for(let k=k0;k<=k1;k++){let p=[a,b,c];if(k>0)p=clip(p,s.th[k-1],true);if(p.length&&k<20)p=clip(p,s.th[k],false);if(p.length>2)out.push(poly(p,s.colors[k]));}}
function cellRender(s){return function(params,api){
 const v=i=>api.value(i),P=(x,y,val)=>{const c=api.coord([x,y]);return [c[0],c[1],val];};
 const a=P(v(0),v(2),v(4)),b=P(v(1),v(2),v(5)),c=P(v(1),v(3),v(7)),d=P(v(0),v(3),v(6));
 const ks=[a,b,c,d].map(p=>band(s,p[2]));const out=[];
 if(ks.every(k=>k===ks[0]))out.push(poly([a,b,c,d],s.colors[ks[0]]));
 else{const m=[(a[0]+c[0])/2,(a[1]+c[1])/2,(a[2]+b[2]+c[2]+d[2])/4];tri(s,a,b,m,out);tri(s,b,c,m,out);tri(s,c,d,m,out);tri(s,d,a,m,out);}
 return {type:'group',children:out};};}
const grid=[],xAxis=[],yAxis=[],series=[],title=[];
const lineS={color:BLACK,width:2};
const txt={color:BLACK,fontFamily:FONT,fontSize:TICK};
const nameTxt={color:BLACK,fontFamily:FONT,fontSize:NAME};
panels.forEach((p,i)=>{
 const [name,rows,key,col,row,floor]=p,s=scales[key],isH=i===7;
 grid.push({left:leftX[col],top:tops[row],width:W[col],height:H});
 title.push({text:name,left:leftX[col]+W[col]/2-1,top:tops[row]-41,padding:0,textAlign:'center',textStyle:{color:BLACK,fontFamily:FONT,fontSize:TITLE,fontWeight:'normal'}});
 const xi=xAxis.length,yi=yAxis.length;
 xAxis.push({gridIndex:i,type:'value',min:-75,max:70,position:'bottom',z:10,
  name:row===3?'Latitude':'',nameLocation:'middle',nameGap:59,nameTextStyle:nameTxt,
  axisLine:{onZero:false,lineStyle:lineS},splitLine:{show:false},
  axisTick:{customValues:latTicks,length:10,lineStyle:lineS},
  axisLabel:{customValues:latTicks,formatter:fmtLat,margin:18,rich:latRich,...txt}},
  {gridIndex:i,type:'value',min:-75,max:70,position:'top',z:10,axisLine:{onZero:false,lineStyle:lineS},axisTick:{show:false},axisLabel:{show:false},splitLine:{show:false}});
 const yt=isH?depthTicksNeg:depthTicks;
 yAxis.push({gridIndex:i,type:'value',inverse:true,min:0,max:4500,position:'left',z:10,
  name:col===0?'Depth (m)':'',nameLocation:'middle',nameGap:101,nameRotate:90,nameTextStyle:nameTxt,
  axisLine:{onZero:false,lineStyle:lineS},splitLine:{show:false},
  axisTick:{customValues:yt,length:10,lineStyle:lineS},
  axisLabel:{customValues:yt,formatter:v=>v===0?'0':(isH?'\u2212'+v:String(v)),margin:20,...txt}},
  {gridIndex:i,type:'value',inverse:true,min:0,max:4500,position:'right',z:10,axisLine:{onZero:false,lineStyle:lineS},axisTick:{show:false},axisLabel:{show:false},splitLine:{show:false}});
 const cells=[];
 for(let r=0;r+1<depths.length;r++)for(let c=0;c+1<latitudes.length;c++)
  cells.push([latitudes[c],latitudes[c+1],depths[r],depths[r+1],rows[r][c]/s.div,rows[r][c+1]/s.div,rows[r+1][c]/s.div,rows[r+1][c+1]/s.div]);
 series.push({type:'custom',name:name,xAxisIndex:xi,yAxisIndex:yi,data:cells,encode:{x:[0,1],y:[2,3]},renderItem:cellRender(s),animation:false,silent:true,clip:true,z:2});
 series.push({type:'line',xAxisIndex:xi,yAxisIndex:yi,data:floor,symbol:'none',showSymbol:false,lineStyle:{width:0},areaStyle:{color:'#fff',opacity:1,origin:4500},animation:false,silent:true,z:3});
});
const bars=[
 {key:'tb',x:104.6,w:410.4,ticks:[-2,-1,0,1,2],fmt:v=>minus(v),name:'Temp bias (℃)'},
 {key:'t',x:579.5,w:409.2,ticks:[-2,3,8,13,18,23,28],fmt:v=>minus(v),name:'Temperature  (℃)'},
 {key:'sb',x:1118.4,w:409.3,ticks:[-1,-0.5,0,0.5,1],fmt:v=>minus(v.toFixed(1)),name:'Salt bias (g\u2009kg⁻¹)'},
 {key:'s',x:1615.8,w:409.2,ticks:[33.5,34,34.5,35,35.5,36],fmt:v=>v.toFixed(1),name:'Salinity (g\u2009kg⁻¹)'}];
bars.forEach(b=>{
 const s=scales[b.key],gi=grid.length,range=s.hi-s.lo,tip=range*0.052;
 grid.push({left:b.x,top:1919.3,width:b.w,height:23.4});
 const xi=xAxis.length,yi=yAxis.length;
 xAxis.push({gridIndex:gi,type:'value',min:s.lo,max:s.hi,position:'bottom',z:10,name:b.name,nameLocation:'middle',nameGap:60,nameTextStyle:nameTxt,
  axisLine:{show:false,onZero:false},splitLine:{show:false},axisTick:{customValues:b.ticks,length:10,lineStyle:lineS},
  axisLabel:{customValues:b.ticks,formatter:b.fmt,margin:19,...txt}});
 yAxis.push({gridIndex:gi,type:'value',min:0,max:1,show:false});
 const items=s.colors.map((c,k)=>[k===0?s.lo-tip:s.th[k-1],k===20?s.hi+tip:s.th[k],k]);
 series.push({type:'custom',xAxisIndex:xi,yAxisIndex:yi,data:items,encode:{x:[0,1]},animation:false,silent:true,clip:false,z:2,
  renderItem:(params,api)=>{const lo=api.value(0),hi=api.value(1),k=api.value(2),C=(x,y)=>api.coord([x,y]);
   const pts=k===0?[C(s.lo,0),C(s.lo,1),C(lo,0.5)]:k===20?[C(s.hi,0),C(s.hi,1),C(hi,0.5)]:[C(lo,0),C(hi,0),C(hi,1),C(lo,1)];
   return {type:'polygon',shape:{points:pts},style:{fill:s.colors[k],stroke:s.colors[k],lineWidth:0.5}};}});
 series.push({type:'custom',xAxisIndex:xi,yAxisIndex:yi,data:[[s.lo,s.hi]],encode:{x:[0,1]},animation:false,silent:true,clip:false,z:3,
  renderItem:(params,api)=>{const C=(x,y)=>api.coord([x,y]);
   return {type:'polygon',shape:{points:[C(s.lo,0),C(s.lo-tip,0.5),C(s.lo,1),C(s.hi,1),C(s.hi+tip,0.5),C(s.hi,0)]},style:{fill:'none',stroke:BLACK,lineWidth:2}};}});
});
echarts.init(document.getElementById('c'),null,{renderer:'canvas'}).setOption({animation:false,backgroundColor:'#fff',title,grid,xAxis,yAxis,series});
</script></body></html>
